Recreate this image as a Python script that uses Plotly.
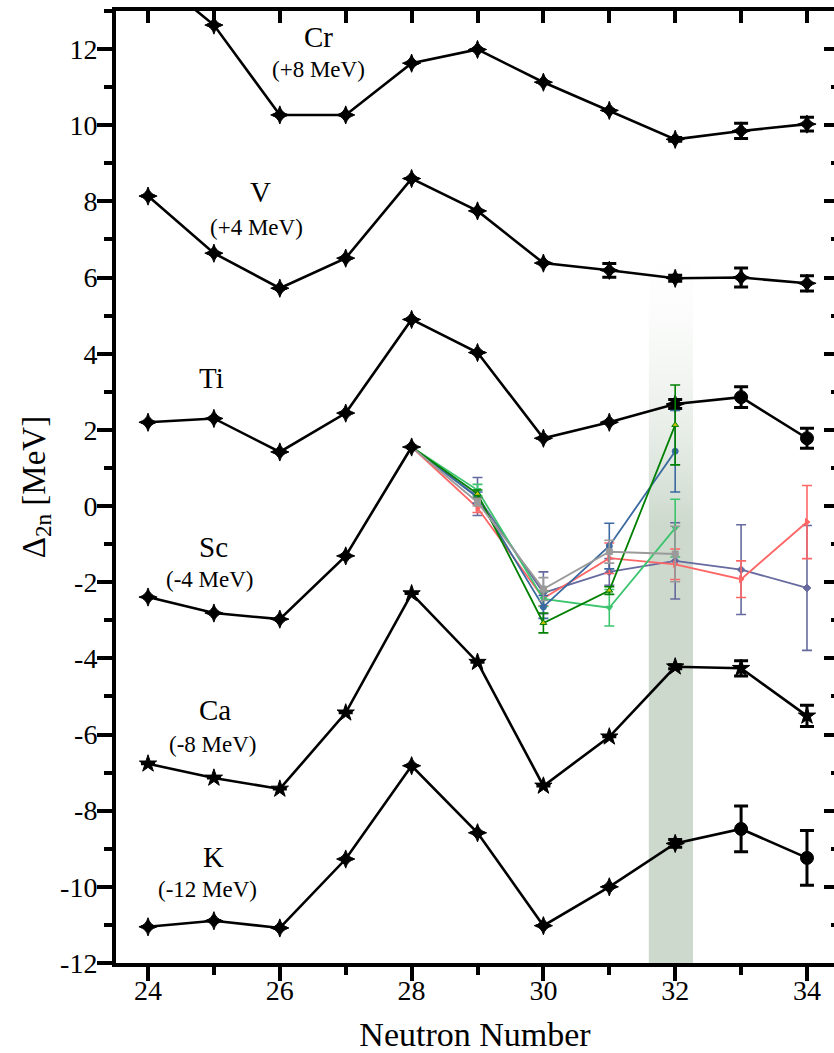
import plotly.graph_objects as go

# ---------------- data ----------------
neutrons = [24, 25, 26, 27, 28, 29, 30, 31, 32, 33, 34]

cr_vals = [14.05, 12.63, 10.27, 10.27, 11.63, 11.99, 11.13, 10.39, 9.63, 9.85, 10.03]
cr_err = [0, 0, 0, 0, 0, 0, 0, 0, 0.05, 0.2, 0.18]
v_vals = [8.14, 6.64, 5.72, 6.51, 8.60, 7.75, 6.38, 6.19, 5.98, 6.00, 5.85]
v_err = [0, 0, 0, 0, 0, 0, 0, 0.18, 0.08, 0.25, 0.2]
ti_vals = [2.20, 2.30, 1.42, 2.44, 4.90, 4.03, 1.78, 2.20, 2.68, 2.86, 1.78]
ti_err = [0, 0, 0, 0, 0, 0, 0, 0, 0.12, 0.27, 0.26]
sc_n = [24, 25, 26, 27, 28]
sc_vals = [-2.39, -2.81, -2.97, -1.31, 1.55]
ca_vals = [-6.77, -7.14, -7.43, -5.43, -2.30, -4.10, -7.35, -6.06, -4.22, -4.26, -5.51]
ca_err = [0, 0, 0, 0, 0, 0, 0, 0, 0.05, 0.2, 0.28]
k_vals = [-11.05, -10.89, -11.08, -9.27, -6.82, -8.58, -11.02, -10.00, -8.86, -8.48, -9.24]
k_err = [0, 0, 0, 0, 0, 0, 0, 0, 0.1, 0.6, 0.72]

# Sc colored variants (from N=28)
sc_long_n = [28, 29, 30, 31, 32, 33, 34]
sc_short_n = [28, 29, 30, 31, 32]
red_vals = [1.55, -0.05, -2.42, -1.37, -1.53, -1.92, -0.42]
red_err = [0, 0.12, 0.2, 0.4, 0.4, 0.48, 0.96]
slate_vals = [1.55, 0.25, -2.28, -1.73, -1.44, -1.67, -2.15]
slate_err = [0, 0.5, 0.55, 0.35, 1.0, 1.18, 1.64]
gray_vals = [1.55, 0.10, -2.18, -1.20, -1.26]
gray_err = [0, 0.1, 0.3, 0.3, 0.73]
dgreen_vals = [1.55, 0.32, -3.07, -2.22, 2.13]
dgreen_err = [0, 0.1, 0.26, 0.1, 1.05]
lgreen_vals = [1.55, 0.42, -2.44, -2.67, -0.58]
lgreen_err = [0, 0.15, 0.2, 0.48, 0.76]
sblue_vals = [1.55, 0.22, -2.65, -1.05, 1.44]
sblue_err = [0, 0.15, 0.3, 0.6, 1.07]

# element labels
label_names = ["Cr", "V", "Ti", "Sc", "Ca", "K"]
label_x = [26.58, 25.70, 24.97, 24.99, 25.02, 24.99]
label_y = [12.31, 8.24, 3.36, -1.08, -5.35, -9.21]
shift_text = ["(+8 MeV)", "(+4 MeV)", "", "(-4 MeV)", "(-8 MeV)", "(-12 MeV)"]
shift_x = [26.58, 25.64, 0, 24.94, 24.99, 24.90]
shift_y = [11.47, 7.32, 0, -1.94, -6.25, -10.08]

# tick labels
x_tick_vals = [24, 26, 28, 30, 32, 34]
x_tick_text = ["24", "26", "28", "30", "32", "34"]
y_tick_vals = [-12, -10, -8, -6, -4, -2, 0, 2, 4, 6, 8, 10, 12]
y_tick_text = ["-12", "-10", "-8", "-6", "-4", "-2", "0", "2", "4", "6", "8", "10", "12"]

# highlighted band at N=32
band_x = [31.60, 32.27]
band_y = [-12.0, 7.4]

X_RANGE = [23.514, 34.41]
Y_RANGE = [-12.0, 13.0]
FONT = "Liberation Serif, Times New Roman, serif"

fig = go.Figure()

# band with vertical gradient
fig.add_trace(go.Scatter(
    x=[band_x[0], band_x[1], band_x[1], band_x[0], band_x[0]],
    y=[band_y[0], band_y[0], band_y[1], band_y[1], band_y[0]],
    mode="lines", line=dict(width=0), fill="toself",
    fillgradient=dict(type="vertical", start=-0.5, stop=band_y[1],
                      colorscale=[[0, "rgba(205,217,205,1)"], [1, "rgba(255,255,255,0)"]]),
    showlegend=False, hoverinfo="skip"))

def err(e, thick=3, w=7, color="black"):
    return dict(type="data", array=e, visible=True, thickness=thick, width=w, color=color)

black_series = [
    (cr_vals, cr_err, ["star-diamond"] * 11),
    (v_vals, v_err, ["star-diamond"] * 11),
    (ti_vals, ti_err, ["star-diamond"] * 9 + ["circle"] * 2),
    (k_vals, k_err, ["star-diamond"] * 9 + ["circle"] * 2),
]
for vals, e, sym in black_series:
    fig.add_trace(go.Scatter(
        x=neutrons, y=vals, mode="lines+markers",
        line=dict(color="black", width=2.6),
        marker=dict(color="black", size=13, symbol=sym, line=dict(color="black", width=1)),
        error_y=err(e), showlegend=False))

fig.add_trace(go.Scatter(
    x=neutrons, y=ca_vals, mode="lines+markers",
    line=dict(color="black", width=2.6),
    marker=dict(color="black", size=13, symbol="star", line=dict(color="black", width=1)),
    error_y=err(ca_err), showlegend=False))

colored = [
    (sc_long_n, slate_vals, slate_err, "#666a9e", "diamond", "#666a9e"),
    (sc_long_n, red_vals, red_err, "#ff6666", "triangle-right", "#ff6666"),
    (sc_short_n, lgreen_vals, lgreen_err, "#3cc46e", "triangle-down", "#3cc46e"),
    (sc_short_n, sblue_vals, sblue_err, "#3a6aa0", "circle", "#3a6aa0"),
    (sc_short_n, dgreen_vals, dgreen_err, "#008000", "triangle-up", "#c8c000"),
    (sc_short_n, gray_vals, gray_err, "#9a9a9a", "square", "#9a9a9a"),
]
for xs, vals, e, col, sym, mcol in colored:
    fig.add_trace(go.Scatter(
        x=xs, y=vals, mode="lines+markers",
        line=dict(color=col, width=1.8),
        marker=dict(color=mcol, size=6, symbol=sym, line=dict(color=col, width=1)),
        error_y=err(e, thick=1.6, w=5, color=col), showlegend=False))

fig.add_trace(go.Scatter(
    x=sc_n, y=sc_vals, mode="lines+markers",
    line=dict(color="black", width=2.6),
    marker=dict(color="black", size=13, symbol="star-diamond", line=dict(color="black", width=1)),
    showlegend=False))

# dummy traces to activate the mirror axes
fig.add_trace(go.Scatter(x=[None], y=[None], xaxis="x2", yaxis="y", showlegend=False, hoverinfo="skip"))
fig.add_trace(go.Scatter(x=[None], y=[None], xaxis="x", yaxis="y2", showlegend=False, hoverinfo="skip"))

for name, x, y in zip(label_names, label_x, label_y):
    fig.add_annotation(x=x, y=y, text=name, showarrow=False,
                       font=dict(family=FONT, size=29, color="black"))
for t, x, y in zip(shift_text, shift_x, shift_y):
    if t:
        fig.add_annotation(x=x, y=y, text=t, showarrow=False,
                           font=dict(family=FONT, size=23, color="black"))

fig.update_layout(
    width=834, height=1053,
    margin=dict(l=116, r=0, t=11, b=90),
    plot_bgcolor="white", paper_bgcolor="white",
    font=dict(family=FONT, color="black"),
    xaxis=dict(range=X_RANGE, tickvals=x_tick_vals, ticktext=x_tick_text,
               ticks="outside", ticklen=14, tickwidth=3.5, ticklabelstandoff=-15,
               tickcolor="black", showline=True, linewidth=4, linecolor="black",
               showgrid=False, zeroline=False,
               tickfont=dict(family=FONT, size=28, color="black"),
               minor=dict(tick0=24, dtick=1, ticks="outside", ticklen=8, tickwidth=3.5, tickcolor="black"),
               title=dict(text="Neutron Number", font=dict(family=FONT, size=34, color="black"), standoff=22)),
    xaxis2=dict(range=X_RANGE, overlaying="x", side="top", anchor="y", tick0=24, dtick=1,
                ticks="inside", ticklen=12, tickwidth=3.5, tickcolor="black",
                showline=True, linewidth=4, linecolor="black", showticklabels=False,
                showgrid=False, zeroline=False),
    yaxis=dict(range=Y_RANGE, tickvals=y_tick_vals, ticktext=y_tick_text,
               ticks="outside", ticklen=15, tickwidth=3.5, ticklabelstandoff=-6,
               tickcolor="black", showline=True, linewidth=4, linecolor="black",
               showgrid=False, zeroline=False,
               tickfont=dict(family=FONT, size=28, color="black"),
               minor=dict(tick0=-12, dtick=1, ticks="outside", ticklen=8, tickwidth=3.5, tickcolor="black"),
               title=dict(text="Δ<sub>2n</sub> [MeV]", font=dict(family=FONT, size=33, color="black"), standoff=6)),
    yaxis2=dict(range=Y_RANGE, overlaying="y", side="right", anchor="x", tick0=-12, dtick=2,
                ticks="inside", ticklen=10, tickwidth=4, tickcolor="black",
                showline=False, showticklabels=False, showgrid=False, zeroline=False,
                minor=dict(dtick=1, ticks="inside", ticklen=3, tickwidth=4, tickcolor="black")),
)

fig.write_html("out.html")
